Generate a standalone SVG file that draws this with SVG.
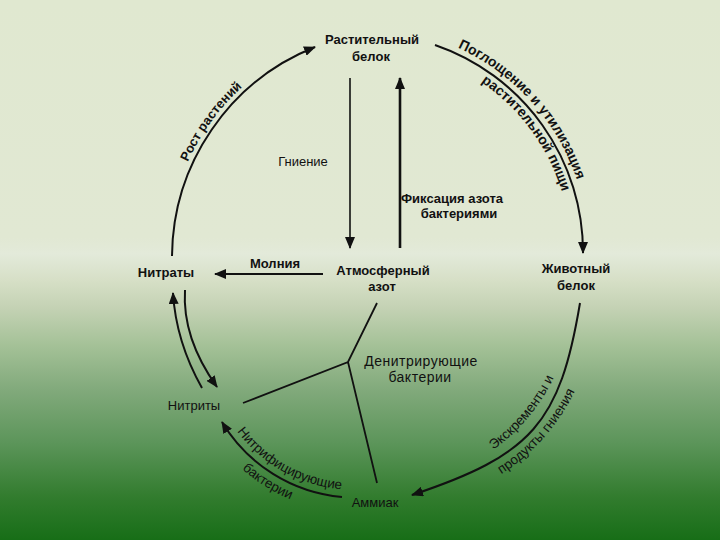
<svg xmlns="http://www.w3.org/2000/svg" width="720" height="540" viewBox="0 0 720 540">
<defs>
<linearGradient id="bg" x1="0" y1="0" x2="0" y2="1">
<stop offset="0" stop-color="#e0e8d0"/>
<stop offset="0.44" stop-color="#e1e8d3"/>
<stop offset="0.47" stop-color="#e3eada"/>
<stop offset="0.52" stop-color="#d6dfc6"/>
<stop offset="0.57" stop-color="#c4d2b4"/>
<stop offset="0.64" stop-color="#a4c197"/>
<stop offset="0.72" stop-color="#82aa7c"/>
<stop offset="0.82" stop-color="#5c955a"/>
<stop offset="0.92" stop-color="#327c2e"/>
<stop offset="1" stop-color="#176e17"/>
</linearGradient>
<marker id="ah" viewBox="0 0 12 10" refX="11" refY="5" markerWidth="12" markerHeight="10" markerUnits="userSpaceOnUse" orient="auto">
<path d="M0,0 L12,5 L0,10 z" fill="#111"/>
</marker>
<path id="tpRost" d="M176,194.1 A232,232 0 0 1 269.3,65.7"/>
<path id="tpPogl" d="M440.3,40.5 A225,225 0 0 1 582.3,198"/>
<path id="tpRast" d="M453,65.9 A207,207 0 0 1 569,223.2"/>
<path id="tpEksk" d="M462.4,467.2 A183,183 0 0 0 565.6,344.3"/>
<path id="tpProd" d="M459.1,495.4 A208,208 0 0 0 590.7,346.8"/>
<path id="tpNitr" d="M215.9,392.6 A148,148 0 0 0 385.8,486.8"/>
<path id="tpBakt" d="M207.8,427 A170,170 0 0 0 343.1,511.6"/>
</defs>
<style>
text{font-family:"Liberation Sans",Arial,sans-serif;fill:#111;text-anchor:middle}
.b{font-size:13px;font-weight:bold}
.r{font-size:13px}
.c{stroke:#111;stroke-width:2;fill:none}
.a{marker-end:url(#ah)}
</style>
<rect width="720" height="540" fill="url(#bg)"/>

<g id="connectors">
<path class="c a" d="M172,256 A227,227 0 0 1 315,47"/>
<path class="c a" d="M435,45 A219,219 0 0 1 583,253"/>
<path class="c a" d="M580,303 C560,423 532,455 412,495"/>
<path class="c a" d="M342,497 A156,156 0 0 1 222,422"/>
<path class="c a" d="M202,388 Q176,342 173,293"/>
<path class="c a" d="M185,290 Q182,338 217,387"/>
<path class="c a" d="M350,78 L350,248" style="stroke-width:1.6"/>
<path class="c a" d="M400,248 L400,78" style="stroke-width:2.6"/>
<path class="c a" d="M323,274 L215,274"/>
<path class="c" d="M377,303 L348,362 L243,403 M348,362 L377,483" style="stroke-width:1.8"/>
</g>

<g id="edge-labels">
<text class="b"><textPath href="#tpRost" startOffset="50%">Рост растений</textPath></text>
<text class="b" style="font-size:14px"><textPath href="#tpPogl" startOffset="50%">Поглощение и утилизация</textPath></text>
<text class="b" style="font-size:14px"><textPath href="#tpRast" startOffset="50%">растительной пищи</textPath></text>
<text class="r" style="font-size:13.5px"><textPath href="#tpEksk" startOffset="50%">Экскременты и</textPath></text>
<text class="r" style="font-size:13.5px"><textPath href="#tpProd" startOffset="50%">продукты гниения</textPath></text>
<text class="r" style="font-size:13.5px"><textPath href="#tpNitr" startOffset="50%">Нитрифицирующие</textPath></text>
<text class="r" style="font-size:13.5px"><textPath href="#tpBakt" startOffset="50%">бактерии</textPath></text>
<text class="r" x="303" y="166">Гниение</text>
<text class="b" x="452" y="203">Фиксация азота</text>
<text class="b" x="459" y="218">бактериями</text>
<text class="b" x="275" y="268">Молния</text>
<text class="r" x="421" y="366" style="font-size:14px;letter-spacing:0.5px">Денитрирующие</text>
<text class="r" x="420" y="382" style="font-size:14px;letter-spacing:0.5px">бактерии</text>
</g>

<g id="node-plant-protein"><text class="b" x="372" y="44">Растительный</text><text class="b" x="371" y="61">белок</text></g>
<g id="node-animal-protein"><text class="b" x="576" y="273">Животный</text><text class="b" x="576" y="290">белок</text></g>
<g id="node-atmospheric-nitrogen"><text class="b" x="383" y="275">Атмосферный</text><text class="b" x="382" y="291">азот</text></g>
<g id="node-nitrates"><text class="b" x="166" y="277">Нитраты</text></g>
<g id="node-nitrites"><text class="r" x="194" y="410">Нитриты</text></g>
<g id="node-ammonia"><text class="r" x="375" y="507">Аммиак</text></g>
</svg>
